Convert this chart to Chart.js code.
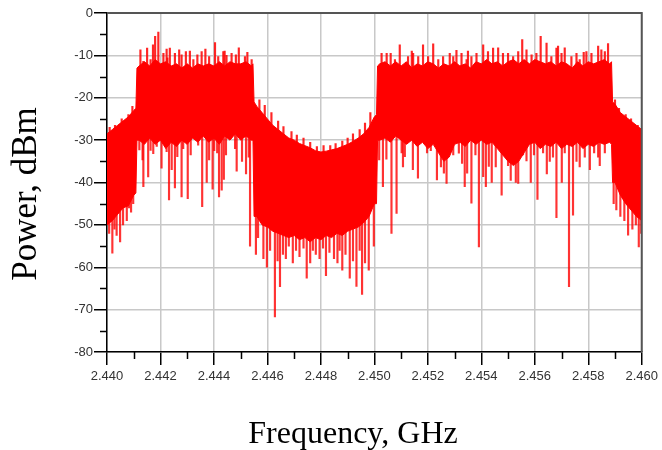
<!DOCTYPE html>
<html>
<head>
<meta charset="utf-8">
<script src="https://cdn.jsdelivr.net/npm/chart.js@4/dist/chart.umd.min.js"></script>
<style>
    html, body { margin: 0; padding: 0; background: #ffffff; }
    #wrap { width: 662px; height: 450px; position: relative; }
</style>
</head>
<body>
<div id="wrap"><canvas id="myChart"></canvas></div>
<script>
    // envelope samples, GHz (one row per region of the spectrum)
    const freqGHz = [
        2.4400, 2.4402, 2.4404, 2.4406, 2.4408, 2.4410, 2.44108,
        2.44112, 2.4412, 2.4414, 2.4416, 2.4418, 2.4420, 2.4422, 2.4424, 2.4426, 2.4428, 2.4430, 2.4432,
        2.4434, 2.4436, 2.4438, 2.4440, 2.4442, 2.4444, 2.4446, 2.4448, 2.4450, 2.4452, 2.4454, 2.44546,
        2.44550, 2.4456, 2.4458, 2.4460, 2.4462, 2.4464, 2.4466, 2.4468, 2.4470, 2.4472, 2.4474, 2.4476,
        2.4478, 2.4480, 2.4482, 2.4484, 2.4486, 2.4488, 2.4490, 2.4492, 2.4494, 2.4496, 2.4498, 2.4500, 2.45008,
        2.45012, 2.4502, 2.4504, 2.4506, 2.4508, 2.4510, 2.4512, 2.4514, 2.4516, 2.4518, 2.4520,
        2.4522, 2.4524, 2.4526, 2.4528, 2.4530, 2.4532, 2.4534, 2.4536, 2.4538, 2.4540,
        2.4542, 2.4544, 2.4546, 2.4548, 2.4550, 2.4552, 2.4554, 2.4556, 2.4558, 2.4560,
        2.4562, 2.4564, 2.4566, 2.4568, 2.4570, 2.4572, 2.4574, 2.4576, 2.4578, 2.4580,
        2.4582, 2.4584, 2.4586, 2.4588, 2.45887,
        2.45891, 2.4590, 2.4592, 2.4594, 2.4596, 2.4598, 2.4600
    ];

    // top of the solid red band, dBm
    const upperEnv = [
        -28.5, -27.5, -26.5, -25.5, -24.5, -23, -22.5,
        -13, -12.5, -11.5, -12.5, -11, -12, -11.5, -12.5, -12, -13, -12, -13,
        -12, -12.5, -12, -12.5, -11.5, -12.5, -11.5, -12, -12, -11.5, -12.5, -12,
        -21, -22, -23.5, -25, -26.5, -27.5, -28.5, -29.5, -30, -30.8, -31.3, -31.8,
        -32.5, -32.8, -32.6, -32.3, -32, -31.5, -31, -30.3, -29.5, -28.5, -27, -24.5, -24,
        -12.5, -12, -11.5, -12.5, -11.5, -12.5, -11.5, -13, -12, -12.5, -11.5,
        -12, -13, -12, -12.5, -11.5, -12.5, -12, -13, -11.5, -12,
        -11, -12, -11.5, -12.5, -11.5, -11, -12, -11, -12, -11,
        -11.5, -12, -11.5, -12.5, -11.5, -12, -13, -11.5, -12.5, -11.5,
        -12, -11.5, -11, -12, -11.5,
        -21, -21.5, -23.5, -24.5, -25.5, -26.5, -27.5
    ];

    // bottom of the solid red band, dBm
    const lowerEnv = [
        -50, -49, -47.5, -46, -45.5, -43, -42.5,
        -30, -30, -31, -29.5, -31, -30, -32, -30.5, -31.5, -30, -31, -29.5,
        -30.5, -29, -30.5, -29.5, -31, -29, -30, -28.5, -30, -29, -30, -30,
        -48, -48, -50, -50.5, -51.5, -52, -52.5, -53, -52.5, -53.5, -53, -54,
        -53, -53.5, -52.5, -53, -52, -52.5, -51.5, -51, -50.5, -49.5, -48, -45, -45,
        -30, -30, -29.5, -30.5, -29, -30, -31, -30, -31.5, -30.5, -32,
        -31, -33, -35, -34, -31, -30.5, -31.5, -30, -31, -30,
        -31, -30.5, -32, -33.5, -35, -36, -35, -33, -31, -30.5,
        -32, -31, -31.5, -30.5, -32, -31, -31.5, -30.5, -32, -31,
        -31.5, -30.5, -31, -30.5, -31,
        -40, -40, -43, -45, -46.5, -48, -49
    ];

    // upward spikes above the band
    const peakFreqs = [
        2.44010, 2.44030, 2.44055, 2.44080, 2.44095,
        2.44125, 2.44136, 2.44150, 2.44163, 2.44172, 2.44180, 2.44192, 2.44211, 2.44223, 2.44226, 2.44235, 2.44254,
        2.44270, 2.44279, 2.44295, 2.44310, 2.44323, 2.44338, 2.44354, 2.44368, 2.44382, 2.44404, 2.44416, 2.44435,
        2.44440, 2.44447, 2.44466, 2.44482, 2.44493, 2.44516, 2.44525, 2.44541,
        2.44570, 2.44590, 2.44615, 2.44640, 2.44660, 2.44690, 2.44710, 2.44735, 2.44760, 2.44785,
        2.44810, 2.44835, 2.44855, 2.44880, 2.44900, 2.44920, 2.44945, 2.44965, 2.44985,
        2.45027, 2.45046, 2.45061, 2.45077, 2.45095, 2.45126, 2.45140, 2.45145, 2.45164, 2.45182, 2.45201, 2.45220,
        2.45239, 2.45257, 2.45282, 2.45295, 2.45307, 2.45326, 2.45345, 2.45350, 2.45363, 2.45382, 2.45407, 2.45425,
        2.45444, 2.45463, 2.45481, 2.45500, 2.45519, 2.45538, 2.45553, 2.45569, 2.45588, 2.45606, 2.45622, 2.45644,
        2.45662, 2.45681, 2.45687, 2.45700, 2.45712, 2.45737, 2.45756, 2.45768, 2.45783, 2.45793, 2.45812, 2.45837,
        2.45849, 2.45862, 2.45874,
        2.45900, 2.45915, 2.45940, 2.45960, 2.45985
    ];
    const peakValues = [
        -27, -26.5, -25, -24, -22,
        -8.7, -11.4, -8.3, -11, -7.5, -5.5, -4.5, -9.5, -8.5, -10.6, -8.3, -9.5,
        -8.7, -9.9, -9.1, -9.0, -11, -9.9, -9.1, -8.5, -10.3, -7.0, -10.3, -9.1,
        -9.0, -10, -9.5, -9.9, -8.2, -10.3, -9.3, -11,
        -20.5, -21.8, -23.5, -25.5, -26.8, -28, -28.8, -29.5, -30.5, -31.5,
        -31.3, -31.3, -30.8, -30.2, -29.5, -28.5, -27.5, -26, -23.5,
        -9.5, -9.5, -9.5, -11, -7.5, -10.3, -9.0, -9.5, -10.3, -7.5, -10.3, -7.3,
        -11, -10.3, -9.5, -10.3, -8.8, -9.5, -11, -9.0, -10.3, -9.5, -7.5, -9.1,
        -8.3, -8.2, -9.5, -9.5, -10.3, -9.1, -6.3, -8.7, -9.9, -9.5, -5.5, -7.1,
        -10.3, -8.3, -7.8, -9.5, -8.2, -10.3, -9.5, -11, -9.3, -9.1, -9.5, -7.8,
        -8.7, -9.1, -7.2,
        -20.5, -22.5, -24, -25, -26.5
    ];

    // downward spikes below the band
    const dipFreqs = [
        2.44008, 2.44020, 2.44028, 2.44036, 2.44049, 2.44060, 2.44074, 2.44082, 2.44090, 2.44098,
        2.44121, 2.44133, 2.44136, 2.44154, 2.44163, 2.44173, 2.44186, 2.44204, 2.44223, 2.44232, 2.44242,
        2.44254, 2.44263, 2.44279, 2.44285, 2.44302, 2.44313, 2.44341, 2.44356, 2.44373, 2.44382, 2.44395,
        2.44401, 2.44412, 2.44419, 2.44429, 2.44437, 2.44445, 2.44479, 2.44485, 2.44505, 2.44520, 2.44530, 2.44535,
        2.44557, 2.44565, 2.44585, 2.44598, 2.44610, 2.44628, 2.44638, 2.44647, 2.44658, 2.44669, 2.44680,
        2.44695, 2.44707, 2.44720, 2.44735, 2.44747, 2.44760, 2.44770, 2.44781, 2.44795, 2.44808, 2.44819,
        2.44832, 2.44849, 2.44862, 2.44870, 2.44880, 2.44892, 2.44908, 2.44920, 2.44933, 2.44945, 2.44954,
        2.44965, 2.44979, 2.44998,
        2.45018, 2.45032, 2.45045, 2.45064, 2.45083, 2.45102, 2.45107, 2.45114, 2.45144, 2.45163, 2.45197,
        2.45211, 2.45234, 2.45249, 2.45260, 2.45270, 2.45286, 2.45295, 2.45316, 2.45328, 2.45338, 2.45347,
        2.45363, 2.45378, 2.45391, 2.45407, 2.45417, 2.45428, 2.45439, 2.45454, 2.45476, 2.45492, 2.45500,
        2.45510, 2.45529, 2.45538, 2.45556, 2.45569, 2.45585, 2.45597, 2.45610, 2.45631, 2.45645, 2.45656,
        2.45668, 2.45681, 2.45701, 2.45712, 2.45728, 2.45743, 2.45756, 2.45768, 2.45787, 2.45806, 2.45822,
        2.45837, 2.45843, 2.45862,
        2.45895, 2.45905, 2.45920, 2.45935, 2.45949, 2.45965, 2.45978, 2.45989, 2.45998
    ];
    const dipValues = [
        -52, -56.7, -51, -52.5, -54, -50, -49, -46, -47, -45,
        -32.3, -34.7, -41, -38.7, -32.4, -33.2, -31.5, -36.6, -32.7, -44.1, -37,
        -41.3, -33.9, -43.4, -32, -43.8, -33.5, -31.2, -45.7, -40, -34.7, -41.6,
        -32.5, -33, -43.4, -41.8, -39.3, -33.5, -32, -37.3, -35, -38, -34, -55,
        -57, -53, -58, -60, -56, -71.7, -58.5, -64.6, -57, -58, -55,
        -59, -56, -57.5, -55.5, -62.6, -59, -56, -57, -58, -55.5, -62,
        -56.5, -58, -59, -56, -60.7, -57, -62.6, -58.5, -64.5, -56, -66.4,
        -59, -60.7, -55,
        -34.7, -41, -34.5, -52, -47.3, -33, -36.3, -33.9, -37, -39, -33,
        -32.5, -39.4, -36.3, -37.8, -40.2, -32.5, -33.5, -33.1, -35.5, -41, -37.8,
        -44.9, -33.5, -55.2, -38.6, -41, -36.2, -40, -36.3, -43, -34, -36,
        -39.5, -40, -40.2, -33.5, -34.9, -40, -33.5, -44, -33, -38, -35,
        -34, -48.3, -40, -33, -64.6, -47.7, -35, -36.3, -34, -37, -33,
        -34, -36, -33,
        -45, -46.5, -48, -49, -52.4, -51, -50, -55.2, -52
    ];

    const RED = '#ff0000';

    function _NearestIndex(f) {
        let best = 0;
        freqGHz.forEach((g, i) => {
            if (Math.abs(g - f) < Math.abs(freqGHz[best] - f)) best = i;
        });
        return best;
    }

    // minor ticks, dark frame on top/right and the two axis titles
    const decorPlugin = {
        id: 'decor',
        afterDraw(chart) {
            const ctx = chart.ctx;
            const area = chart.chartArea;
            const xs = chart.scales.x;
            const ys = chart.scales.y;

            ctx.save();
            ctx.strokeStyle = '#000';
            ctx.lineWidth = 1.5;
            ctx.beginPath();
            for (let v = -75; v < 0; v += 10) {
                let py = Math.round(ys.getPixelForValue(v)) + 0.5;
                ctx.moveTo(area.left - 7, py);
                ctx.lineTo(area.left, py);
            }
            for (let k = 1; k < 20; k += 2) {
                let px = Math.round(xs.getPixelForValue(2.440 + k * 0.001)) + 0.5;
                ctx.moveTo(px, area.bottom);
                ctx.lineTo(px, area.bottom + 7);
            }
            ctx.stroke();

            ctx.strokeStyle = '#555';
            ctx.lineWidth = 2;
            ctx.beginPath();
            ctx.moveTo(area.left, area.top);
            ctx.lineTo(area.right, area.top);
            ctx.lineTo(area.right, area.bottom);
            ctx.stroke();

            ctx.fillStyle = '#000';
            ctx.font = '32px "Liberation Serif", "Times New Roman", serif';
            ctx.textAlign = 'center';
            ctx.textBaseline = 'alphabetic';
            ctx.fillText('Frequency, GHz', 353, 443);

            ctx.translate(36, 194);
            ctx.rotate(-Math.PI / 2);
            ctx.font = '35px "Liberation Serif", "Times New Roman", serif';
            ctx.fillText('Power, dBm', 0, 0);
            ctx.restore();
        }
    };

    function _BuildChart() {
        let canvas = document.getElementById('myChart');
        let context = canvas.getContext('2d');

        let upperPts = freqGHz.map((f, i) => ({ x: f, y: upperEnv[i] }));
        let lowerPts = freqGHz.map((f, i) => ({ x: f, y: lowerEnv[i] }));
        let peakBars = peakFreqs.map((f, k) => ({ x: f, y: [upperEnv[_NearestIndex(f)] - 2, peakValues[k]] }));
        let dipBars = dipFreqs.map((f, k) => ({ x: f, y: [dipValues[k], lowerEnv[_NearestIndex(f)] + 2] }));

        const tickFont = { family: '"Liberation Sans", Arial, sans-serif', size: 13 };

        const config = {
            type: 'line',
            data: {
                datasets: [
                    {
                        label: 'upper',
                        data: upperPts,
                        borderColor: RED,
                        backgroundColor: RED,
                        borderWidth: 1,
                        pointRadius: 0,
                        tension: 0,
                        fill: '+1'
                    },
                    {
                        label: 'lower',
                        data: lowerPts,
                        borderColor: RED,
                        borderWidth: 1,
                        pointRadius: 0,
                        tension: 0,
                        fill: false
                    },
                    {
                        type: 'bar',
                        label: 'peaks',
                        data: peakBars,
                        backgroundColor: 'rgba(255, 0, 0, 0.85)',
                        barThickness: 1.5,
                        grouped: false
                    },
                    {
                        type: 'bar',
                        label: 'dips',
                        data: dipBars,
                        backgroundColor: 'rgba(255, 0, 0, 0.8)',
                        barThickness: 1.5,
                        grouped: false
                    }
                ]
            },
            options: {
                responsive: true,
                maintainAspectRatio: false,
                animation: false,
                layout: { padding: { top: 13, right: 20, left: 0, bottom: 0 } },
                plugins: {
                    legend: { display: false },
                    tooltip: { enabled: false }
                },
                scales: {
                    x: {
                        type: 'linear',
                        min: 2.440,
                        max: 2.460,
                        offset: false,
                        afterFit: function (scale) { scale.height = 98; },
                        ticks: {
                            stepSize: 0.002,
                            autoSkip: false,
                            maxRotation: 0,
                            padding: 4,
                            color: '#333',
                            font: tickFont,
                            callback: function (v) { return Number(v).toFixed(3); }
                        },
                        grid: {
                            offset: false,
                            color: '#c8c8c8',
                            lineWidth: 1.5,
                            tickLength: 13,
                            tickColor: '#000',
                            tickWidth: 1.5
                        },
                        border: { color: '#000', width: 1.5 }
                    },
                    y: {
                        min: -80,
                        max: 0,
                        afterFit: function (scale) { scale.width = 107; },
                        ticks: {
                            stepSize: 10,
                            padding: 1,
                            color: '#333',
                            font: tickFont
                        },
                        grid: {
                            color: '#c8c8c8',
                            lineWidth: 1.5,
                            tickLength: 13,
                            tickColor: '#000',
                            tickWidth: 1.5
                        },
                        border: { color: '#000', width: 1.5 }
                    }
                }
            },
            plugins: [decorPlugin]
        };

        return new Chart(context, config);
    }

    _BuildChart();
</script>
</body>
</html>
